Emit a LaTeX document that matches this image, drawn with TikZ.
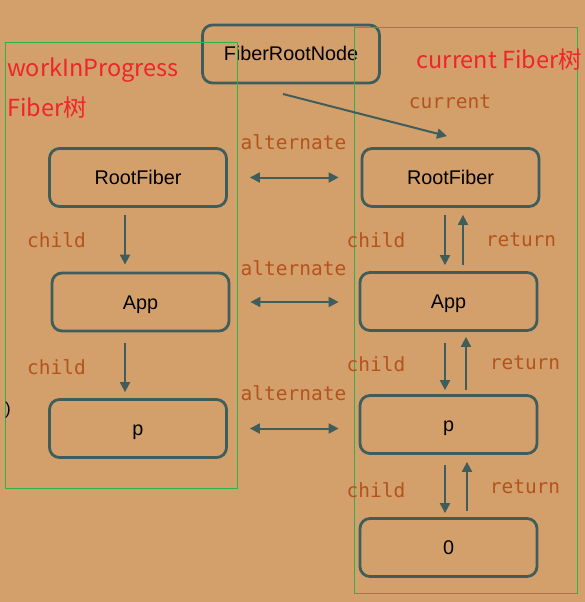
\documentclass[tikz,border=0pt]{standalone}
\usepackage{fontspec}
\setmainfont{Liberation Sans}
\setmonofont{DejaVu Sans Mono}
\newfontfamily\cjk{Noto Sans CJK SC}
\usetikzlibrary{arrows.meta}
\definecolor{bg}{HTML}{D3A06B}
\definecolor{edgec}{HTML}{3F5E5B}
\definecolor{lblc}{HTML}{B4531E}
\definecolor{titlec}{HTML}{EE2529}
\definecolor{framec}{HTML}{2DB34A}
\tikzset{
  fiber/.style={draw=edgec, line width=2.8pt, rounded corners=10pt,
    minimum width=177pt, minimum height=58pt, inner sep=0pt,
    text height=14pt, text depth=0pt,
    font=\fontsize{19.8}{22}\selectfont},
  arr/.style={draw=edgec, line width=2pt, -{Triangle[length=10pt,width=10pt]}},
  dbl/.style={draw=edgec, line width=2pt,
    {Triangle[length=10pt,width=10pt]}-{Triangle[length=10pt,width=10pt]}},
  tag/.style={text=lblc, inner sep=0pt, font=\ttfamily\fontsize{19.5}{22}\selectfont},
  head/.style={text=titlec, anchor=base west, inner sep=0pt,
    font=\cjk\fontsize{23.5}{27}\selectfont},
  tree/.style={draw=framec, line width=1pt}
}
\begin{document}
\begin{tikzpicture}[x=1pt,y=-1pt]
\fill[bg] (0,0) rectangle (585,602);
\useasboundingbox (0,0) rectangle (585,602);
% fiber nodes
\node[fiber] (root) at (291,54) {FiberRootNode};
\node[fiber] (rfL)  at (138,177.5) {RootFiber};
\node[fiber] (appL) at (140.5,302) {App};
\node[fiber] (pL)   at (138,428.5) {p};
\node[fiber] (rfR)  at (450.5,177.5) {RootFiber};
\node[fiber] (appR) at (448.5,301.5) {App};
\node[fiber] (pR)   at (448.5,424.5) {p};
\node[fiber] (zR)   at (448.5,547.5) {0};
% tree frames
\draw[tree] (5.5,43) rectangle (237,488);
\draw[tree] (354,28) rectangle (577,593);
\node[head] (wip)  at (7,76)  {workInProgress};
\node[head] (wipF) at (7,116) {Fiber树};
\node[head] (cur)  at (416.5,69) {current Fiber树};
\node[inner sep=0pt, font=\fontsize{17}{20}\selectfont] (par) at (8,410) {)};
% current pointer
\coordinate (curS) at (283,94);
\draw[arr] (curS) -- ([shift={(-3.5pt,11pt)}]rfR.north);
\node[tag] (curT) at (450,102) {current};
% alternate
\draw[dbl, shorten <=22pt, shorten >=22pt] (rfL.east) -- (rfL.east -| rfR.west);
\draw[dbl, shorten <=20pt, shorten >=20pt] (appL.east) -- (appL.east -| appR.west);
\draw[dbl, shorten <=22pt, shorten >=20pt] (pL.east) -- (pL.east -| pR.west);
\node[tag] (alt1) at (293.5,142) {alternate};
\node[tag] (alt2) at (293.5,268) {alternate};
\node[tag] (alt3) at (293.5,393) {alternate};
% workInProgress children
\draw[arr, shorten <=7pt, shorten >=7pt] ([xshift=-13pt]rfL.south) -- ([xshift=-13pt]rfL.south |- appL.north);
\draw[arr, shorten <=11pt, shorten >=6pt] ([xshift=-15.5pt]appL.south) -- ([xshift=-15.5pt]appL.south |- pL.north);
\node[tag] (chL1) at (56.5,240) {child};
\node[tag] (chL2) at (56.5,367) {child};
% current children / returns
\draw[arr, shorten <=7pt, shorten >=6pt] ([xshift=-5.5pt]rfR.south) -- ([xshift=-3.5pt]appR.north);
\draw[arr, shorten <=6pt, shorten >=7pt] ([xshift=14.5pt]appR.north) -- ([xshift=12.5pt]rfR.south);
\draw[arr, shorten <=11pt, shorten >=4pt] ([xshift=-3.5pt]appR.south) -- ([xshift=-3.5pt]pR.north);
\draw[arr, shorten <=4pt, shorten >=5pt] ([xshift=17.5pt]pR.north) -- ([xshift=17.5pt]appR.south);
\draw[arr, shorten <=10pt, shorten >=4pt] ([xshift=-3.5pt]pR.south) -- ([xshift=-3.5pt]zR.north);
\draw[arr, shorten <=6pt, shorten >=7pt] ([xshift=18.5pt]zR.north) -- ([xshift=18.5pt]pR.south);
\node[tag] (chR1) at (376,240) {child};
\node[tag] (chR2) at (376,364) {child};
\node[tag] (chR3) at (376,490) {child};
\node[tag] (rtR1) at (521,240) {return};
\node[tag] (rtR2) at (525,363) {return};
\node[tag] (rtR3) at (525,487) {return};
\end{tikzpicture}
\end{document}
